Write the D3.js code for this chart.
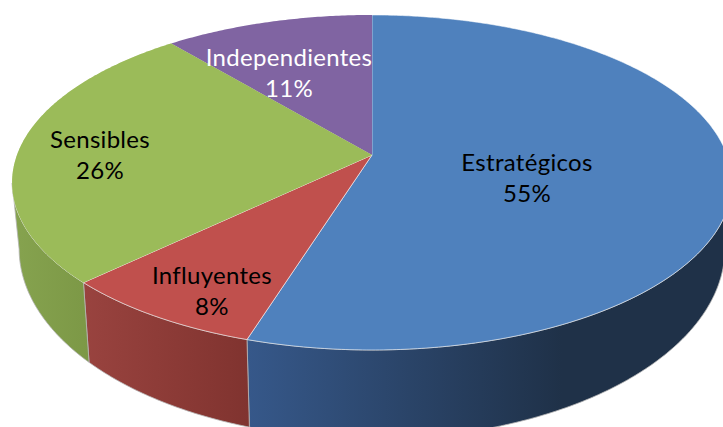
<!DOCTYPE html>
<html>
<head>
<meta charset="utf-8">
<script src="https://cdn.jsdelivr.net/npm/d3@7"></script>
<style>
html, body { margin: 0; padding: 0; background: #fff; overflow: hidden; }
svg { display: block; }
text { font-family: Lato, "Open Sans", sans-serif; font-size: 24px; letter-spacing: 0.3px; text-anchor: middle; }
</style>
</head>
<body>
<script>
var categories = ["Estratégicos", "Influyentes", "Sensibles", "Independientes"];
var percents = [55, 8, 26, 11];
// slice sizes as measured on the picture, the labels show them rounded
var shares = [54.8, 8, 26.2, 11];

var faceColors = ["#4f81bd", "#c0504d", "#9bbb59", "#8064a2"];
var wallColors = [["#36588a", "#1f3148"], ["#99433f", "#80332f"], ["#86a34f", "#7c9846"], ["#5f4a7a", "#5f4a7a"]];
var textColors = ["#000", "#000", "#000", "#fff"];
// middle of each two line label
var labelCenters = [[527, 178], [212, 291], [100, 155], [289, 73]];

var svgWidth = 723;
var svgHeight = 427;

// pie plate seen in perspective: the apex is not the middle of the ellipse
var apexX = 372, apexY = 155;
var plateA = 355, plateB = 163, plateK = 0.164;
// top and bottom rims as ellipses, the wall joins them
var topCy = 182, topRx = 360, topRy = 168;
var bottomCy = 248, bottomRx = 353, bottomRy = 191;

var svg = d3.select("body")
    .append("svg")
    .attr("width", svgWidth)
    .attr("height", svgHeight);

var slices = d3.pie().sort(null).value(d => d)(shares);

function rimPoint(angle) {
    var u = Math.sin(angle), v = -Math.cos(angle);
    var den = 1 - plateK * v;
    return [apexX + plateA * u / den, apexY + plateB * v / den];
}

function wallPoint(p) {
    return [
        apexX + (p[0] - apexX) * bottomRx / topRx,
        bottomCy + (p[1] - topCy) * bottomRy / topRy
    ];
}

function rimPoints(d) {
    var n = Math.ceil((d.endAngle - d.startAngle) / 0.01);
    return d3.range(n + 1).map(i => rimPoint(d.startAngle + (d.endAngle - d.startAngle) * i / n));
}

var line = d3.line();

var defs = svg.append("defs");
slices.forEach((d, i) => {
    var grad = defs.append("linearGradient")
        .attr("id", "wall" + i)
        .attr("x1", 0).attr("x2", i === 0 ? 0.65 : 1)
        .attr("y1", 0).attr("y2", 0);
    grad.append("stop").attr("offset", 0).attr("stop-color", wallColors[i][0]);
    grad.append("stop").attr("offset", 1).attr("stop-color", wallColors[i][1]);
});

// walls, only the front half of the rim shows
svg.selectAll(".wall")
    .data(slices).enter()
    .append("path")
    .attr("class", "wall")
    .attr("fill", (d, i) => "url(#wall" + i + ")")
    .attr("stroke", "#b5b5b5")
    .attr("stroke-width", 0.8)
    .attr("d", d => {
        var pts = rimPoints(d).filter(p => p[1] >= topCy);
        if (pts.length < 2) return null;
        return line(pts.concat(pts.map(wallPoint).reverse())) + "Z";
    });

svg.selectAll(".face")
    .data(slices).enter()
    .append("path")
    .attr("class", "face")
    .attr("fill", (d, i) => faceColors[i])
    .attr("stroke", (d, i) => i === 3 ? "none" : "#fff")
    .attr("stroke-opacity", 0.55)
    .attr("stroke-width", 1)
    .attr("stroke-linejoin", "round")
    .attr("d", d => line([[apexX, apexY]].concat(rimPoints(d))) + "Z");

// the green and purple faces share their edge with no light line
svg.append("path")
    .attr("fill", faceColors[2])
    .attr("d", line([[apexX, apexY]].concat(rimPoints(slices[2]))) + "Z");

var labels = svg.selectAll(".label")
    .data(categories).enter()
    .append("text")
    .attr("class", "label")
    .attr("fill", (d, i) => textColors[i]);

labels.append("tspan")
    .attr("x", (d, i) => labelCenters[i][0])
    .attr("y", (d, i) => labelCenters[i][1] - 7)
    .text(d => d);

labels.append("tspan")
    .attr("x", (d, i) => labelCenters[i][0])
    .attr("y", (d, i) => labelCenters[i][1] + 24)
    .text((d, i) => percents[i] + "%");
</script>
</body>
</html>
